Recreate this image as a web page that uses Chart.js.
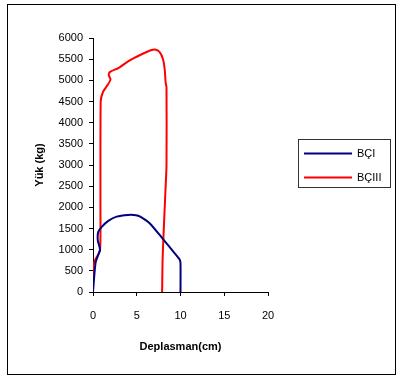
<!DOCTYPE html>
<html>
<head>
<meta charset="utf-8">
<script src="https://cdn.jsdelivr.net/npm/chart.js@4.4.1/dist/chart.umd.min.js"></script>
<style>
  html, body { margin: 0; padding: 0; background: #fff; }
  #wrap { position: relative; width: 396px; height: 376px; }
</style>
</head>
<body>
<div id="wrap"><canvas id="loadChart" width="396" height="376"></canvas></div>
<script>
// BÇI curve (displacement cm, load kg)
const bc1X = [0, 0.3, 0.8, 0.55, 0.6, 1.0, 1.75, 2.7, 4.0, 4.9, 5.4, 6.5, 8.0, 9.2, 9.9, 10, 10];
const bc1Y = [0, 700, 1000, 1220, 1420, 1540, 1680, 1780, 1820, 1815, 1780, 1620, 1250, 950, 770, 680, 0];

// BÇIII curve
const bc3X = [0, 0, 0.25, 0.8, 0.85, 0.88, 1.15, 1.7, 2.0, 1.8, 1.95, 2.9, 4.1, 5.5, 6.6, 7.1, 7.6, 8.0, 8.2, 8.3, 8.4, 8.4, 8.25, 8.05, 7.95, 7.9];
const bc3Y = [0, 560, 760, 980, 2000, 4500, 4730, 4900, 5020, 5130, 5200, 5290, 5460, 5610, 5710, 5730, 5670, 5500, 5250, 4950, 4830, 3000, 2250, 1300, 750, 0];

const xTicks = [0, 5, 10, 15, 20];
const yTicks = [0, 500, 1000, 1500, 2000, 2500, 3000, 3500, 4000, 4500, 5000, 5500, 6000];

const toPoints = (xs, ys) => xs.map((x, i) => ({ x: x, y: ys[i] }));

const tickFont = { family: 'Liberation Sans, Arial, sans-serif', size: 11 };
const titleFont = { family: 'Liberation Sans, Arial, sans-serif', size: 11, weight: 'bold' };

// outer frame + boxed legend on the right
const framePlugin = {
  id: 'frameAndLegend',
  afterDraw(chart) {
    const ctx = chart.ctx;
    ctx.save();
    ctx.strokeStyle = '#000';
    ctx.lineWidth = 1;
    ctx.strokeRect(7.5, 4.5, 388, 370);

    ctx.strokeStyle = '#333';
    ctx.strokeRect(298.5, 139.5, 92, 48);

    ctx.font = '11px Liberation Sans, Arial, sans-serif';
    ctx.textBaseline = 'middle';
    ctx.fillStyle = '#000';
    const rows = [153.5, 177.5];
    chart.data.datasets.forEach((ds, i) => {
      ctx.strokeStyle = ds.borderColor;
      ctx.lineWidth = 2;
      ctx.beginPath();
      ctx.moveTo(304, rows[i]);
      ctx.lineTo(352, rows[i]);
      ctx.stroke();
      ctx.fillText(ds.label, 357, rows[i]);
    });
    ctx.restore();
  }
};

const ctx = document.getElementById('loadChart').getContext('2d');
new Chart(ctx, {
  type: 'scatter',
  data: {
    datasets: [{
      label: 'BÇI',
      data: toPoints(bc1X, bc1Y),
      showLine: true,
      borderColor: '#000080',
      borderWidth: 2,
      pointRadius: 0,
      tension: 0.2
    }, {
      label: 'BÇIII',
      data: toPoints(bc3X, bc3Y),
      showLine: true,
      borderColor: '#ff0000',
      borderWidth: 2,
      pointRadius: 0,
      tension: 0.2
    }]
  },
  options: {
    responsive: false,
    animation: false,
    layout: { padding: { left: 0, top: 38, right: 128, bottom: 0 } },
    plugins: {
      legend: { display: false },
      tooltip: { enabled: false }
    },
    scales: {
      x: {
        type: 'linear',
        min: 0,
        max: 20,
        afterBuildTicks: s => { s.ticks = xTicks.map(v => ({ value: v })); },
        afterFit: s => { s.height = 84; },
        grid: { drawOnChartArea: false, tickLength: 4, color: '#000' },
        border: { color: '#000', width: 1 },
        ticks: { font: tickFont, color: '#000', padding: 13, maxRotation: 0, callback: v => String(v) },
        title: { display: true, text: 'Deplasman(cm)', font: titleFont, color: '#000', padding: { top: 14, bottom: 22 } }
      },
      y: {
        type: 'linear',
        min: 0,
        max: 6000,
        afterBuildTicks: s => { s.ticks = yTicks.map(v => ({ value: v })); },
        afterFit: s => { s.width = 93; },
        grid: { drawOnChartArea: false, tickLength: 4, color: '#000' },
        border: { color: '#000', width: 1 },
        ticks: { font: tickFont, color: '#000', padding: 6, callback: v => String(v) },
        title: { display: true, text: 'Yük (kg)', font: titleFont, color: '#000', padding: { top: 33 } }
      }
    }
  },
  plugins: [framePlugin]
});
</script>
</body>
</html>
